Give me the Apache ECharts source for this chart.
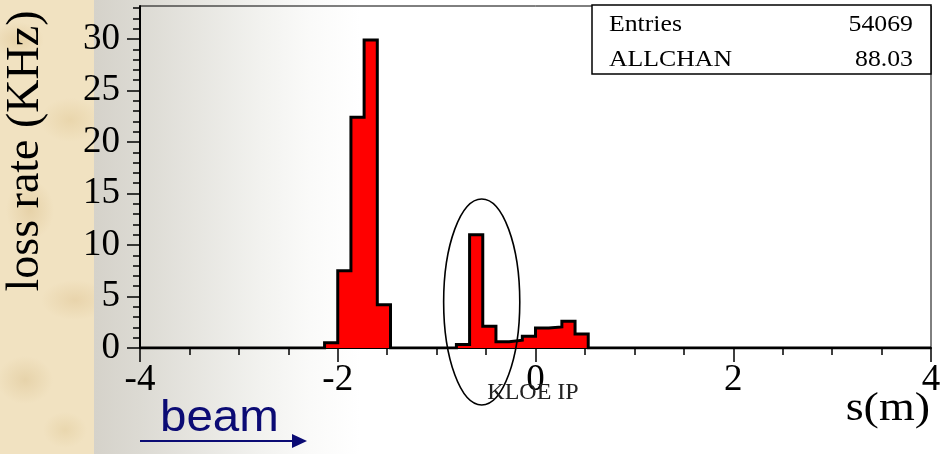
<!DOCTYPE html>
<html>
<head>
<meta charset="utf-8">
<script src="https://cdn.jsdelivr.net/npm/echarts@6/dist/echarts.min.js"></script>
<style>
html,body{margin:0;padding:0;background:#fff;}
#wrap{position:relative;width:940px;height:454px;overflow:hidden;
  background:linear-gradient(to right,#d3d0c7 0px,#d5d2ca 94px,#dcdad3 140px,#e7e6e1 200px,#f2f2ef 260px,#fafaf9 310px,#ffffff 360px);}
#parch{position:absolute;left:0;top:0;width:94px;height:454px;
  background:
    radial-gradient(ellipse 26px 18px at 18px 40px, rgba(222,196,146,0.55), rgba(222,196,146,0)),
    radial-gradient(ellipse 30px 22px at 70px 120px, rgba(226,202,152,0.5), rgba(226,202,152,0)),
    radial-gradient(ellipse 24px 30px at 30px 210px, rgba(220,194,144,0.5), rgba(220,194,144,0)),
    radial-gradient(ellipse 34px 20px at 75px 300px, rgba(224,198,150,0.5), rgba(224,198,150,0)),
    radial-gradient(ellipse 28px 24px at 25px 380px, rgba(220,196,148,0.5), rgba(220,196,148,0)),
    radial-gradient(ellipse 22px 18px at 65px 430px, rgba(226,204,156,0.5), rgba(226,204,156,0)),
    #f1e2c1;}
#chart{position:absolute;left:0;top:0;width:940px;height:454px;}
</style>
</head>
<body>
<div id="wrap"><div id="parch"></div><div id="chart"></div></div>
<script>
// Histogram definition: 60 equal bins between -4 and 4 m
const histMin = -4;
const histMax = 4;
const nBins = 60;
// loss rate per bin (KHz)
const lossRate = [
  0,0,0,0,0,0,0,0,0,0,0,0,0,0,
  0.5,7.5,22.4,29.9,4.2,
  0,0,0,0,0,
  0.35,11.0,2.1,0.6,0.75,1.15,1.95,2.05,2.6,1.35,
  0,0,0,0,0,0,0,0,0,0,0,0,0,0,0,0,0,0,0,0,0,0,0,0,0,0
];
const yMajorTicks = [0,5,10,15,20,25,30];
const yMinorTicks = [0,1,2,3,4,5,6,7,8,9,10,11,12,13,14,15,16,17,18,19,20,21,22,23,24,25,26,27,28,29,30,31,32,33];
const statsLabels = ['Entries','ALLCHAN'];
const statsValues = ['54069','88.03'];
const yTitle = 'loss rate (KHz)';
const xTitle = 's(m)';
const ipLabel = 'KLOE IP';
const beamLabel = 'beam';
// highlighted region (data coordinates): centre s, centre rate, half-width s, half-height rate
const ellipseCenter = [-0.544, 4.47];
const ellipseRadii = [0.385, 10.0];

const binW = (histMax - histMin) / nBins;
const stepData = lossRate.map((v, i) => [histMin + i * binW, v]);
stepData.push([histMax, 0]);

const serif = '"Liberation Serif","Times New Roman",serif';
const chart = echarts.init(document.getElementById('chart'), null, {renderer: 'canvas'});
const yMax = 33.2;

const option = {
  animation: false,
  backgroundColor: 'transparent',
  grid: {left: 140, right: 9, top: 6, bottom: 106, show: true, borderColor: '#000', borderWidth: 1,
         backgroundColor: 'transparent', containLabel: false, outerBoundsMode: 'none'},
  xAxis: {
    type: 'value', min: histMin, max: histMax, interval: 2, position: 'bottom',
    axisLine: {show: true, onZero: false, lineStyle: {color: '#000', width: 2}},
    axisTick: {show: true, inside: false, length: 14, lineStyle: {color: '#000', width: 1.5}},
    minorTick: {show: true, splitNumber: 4, length: 7, lineStyle: {color: '#000', width: 1.5}},
    axisLabel: {fontFamily: serif, fontSize: 37, color: '#000', margin: 14},
    splitLine: {show: false}, minorSplitLine: {show: false}
  },
  yAxis: [
    {
      type: 'value', min: 0, max: yMax, position: 'left',
      axisLine: {show: true, onZero: false, lineStyle: {color: '#000', width: 2}},
      axisTick: {show: true, inside: false, length: 13, customValues: yMajorTicks, lineStyle: {color: '#000', width: 1.5}},
      axisLabel: {customValues: yMajorTicks, fontFamily: serif, fontSize: 37, color: '#000', margin: 20},
      splitLine: {show: false}
    },
    {
      type: 'value', min: 0, max: yMax, position: 'left', offset: 0,
      axisLine: {show: false, onZero: false},
      axisTick: {show: true, inside: false, length: 7, customValues: yMinorTicks, lineStyle: {color: '#000', width: 1.5}},
      axisLabel: {show: false},
      splitLine: {show: false}
    }
  ],
  series: [{
    type: 'line', step: 'end', data: stepData, symbol: 'none', xAxisIndex: 0, yAxisIndex: 0,
    lineStyle: {color: '#000', width: 3, join: 'miter'},
    areaStyle: {color: '#ff0000', opacity: 1},
    z: 3
  }]
};
chart.setOption(option);

const c0 = chart.convertToPixel({xAxisIndex: 0, yAxisIndex: 0}, ellipseCenter);
const c1 = chart.convertToPixel({xAxisIndex: 0, yAxisIndex: 0}, [ellipseCenter[0] + ellipseRadii[0], ellipseCenter[1] + ellipseRadii[1]]);
const rx = Math.abs(c1[0] - c0[0]);
const ry = Math.abs(c0[1] - c1[1]);

const boxL = 592, boxT = 5, boxR = 931, boxB = 74;
chart.setOption({
  graphic: [
    {type: 'ellipse', shape: {cx: c0[0], cy: c0[1], rx: rx, ry: ry}, style: {fill: 'none', stroke: '#000', lineWidth: 1.6}, z: 10},
    {type: 'rect', shape: {x: boxL, y: boxT, width: boxR - boxL, height: boxB - boxT}, style: {fill: '#fff', stroke: '#000', lineWidth: 1.5}, z: 10},
    {type: 'text', x: 609, y: 25, scaleX: 1.12, style: {text: statsLabels[0], font: '23px ' + serif, fill: '#000', textAlign: 'left', textVerticalAlign: 'middle'}, z: 11},
    {type: 'text', x: 609, y: 60, scaleX: 1.12, style: {text: statsLabels[1], font: '23px ' + serif, fill: '#000', textAlign: 'left', textVerticalAlign: 'middle'}, z: 11},
    {type: 'text', x: 913, y: 25, scaleX: 1.12, style: {text: statsValues[0], font: '23px ' + serif, fill: '#000', textAlign: 'right', textVerticalAlign: 'middle'}, z: 11},
    {type: 'text', x: 913, y: 60, scaleX: 1.12, style: {text: statsValues[1], font: '23px ' + serif, fill: '#000', textAlign: 'right', textVerticalAlign: 'middle'}, z: 11},
    {type: 'text', x: 26, y: 151, rotation: Math.PI / 2, style: {text: yTitle, font: '46px ' + serif, fill: '#000', textAlign: 'center', textVerticalAlign: 'middle'}, z: 11},
    {type: 'text', x: 930, y: 409, scaleX: 1.15, style: {text: xTitle, font: '40px ' + serif, fill: '#000', textAlign: 'right', textVerticalAlign: 'middle'}, z: 11},
    {type: 'text', x: 533, y: 393, style: {text: ipLabel, font: '24px ' + serif, fill: '#222', textAlign: 'center', textVerticalAlign: 'middle'}, z: 11},
    {type: 'text', x: 160, y: 419, scaleX: 1.08, style: {text: beamLabel, font: '44px "Liberation Sans", Arial, sans-serif', fill: '#0b0b74', textAlign: 'left', textVerticalAlign: 'middle'}, z: 11},
    {type: 'line', shape: {x1: 140, y1: 441, x2: 294, y2: 441}, style: {stroke: '#0b0b74', lineWidth: 2}, z: 11},
    {type: 'polygon', shape: {points: [[292, 434], [307, 441], [292, 448]]}, style: {fill: '#0b0b74'}, z: 11}
  ]
});
</script>
</body>
</html>
